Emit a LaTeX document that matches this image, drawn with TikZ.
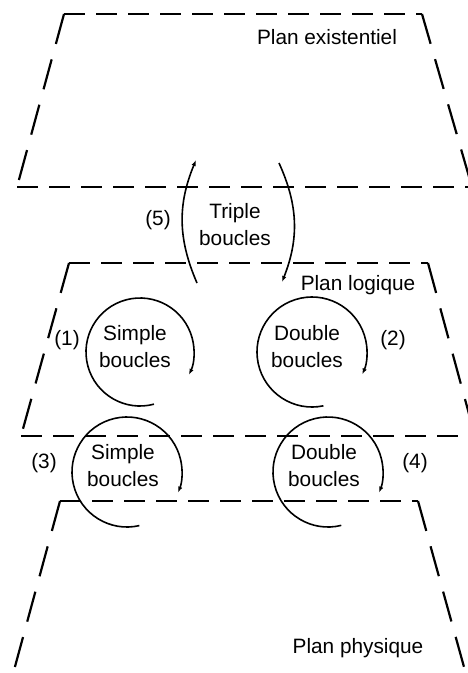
\documentclass[tikz,border=0pt]{standalone}
\usepackage{fontspec}
\setmainfont{Liberation Sans}
\usetikzlibrary{arrows.meta}
\tikzset{
    rim/.style={line width=2.2pt, dash pattern=on 21pt off 11pt},
    flank/.style={line width=2.2pt, dash pattern=on 31pt off 16pt},
    loop/.style={line width=1.6pt, -{Latex[length=6pt,width=4.5pt]}},
    caption/.style={font={\fontsize{20.8pt}{27pt}\selectfont}, inner sep=0pt, align=center},
}

\begin{document}
\begin{tikzpicture}[x=1pt,y=1pt]
\useasboundingbox (0,0) rectangle (468,-673);

% Existential plane
\coordinate (etl) at (64,-14);
\coordinate (etr) at (422,-14);
\coordinate (ebl) at (17,-187);
\coordinate (ebr) at (472,-187);
\draw[rim] (etl) -- (etr);
\draw[flank] (etl) -- (ebl);
\draw[flank] (etr) -- (ebr);
\draw[rim] (ebl) -- (ebr);
\node[caption] (pe) at (327,-37.5) {Plan existentiel};

% Logical plane
\coordinate (ltl) at (69,-263);
\coordinate (ltr) at (428,-263);
\coordinate (lbl) at (21,-436);
\coordinate (lbr) at (475,-436);
\draw[rim] (ltl) -- (ltr);
\draw[flank] (ltl) -- (lbl);
\draw[flank] (ltr) -- (lbr);
\draw[rim] (lbl) -- (lbr);
\node[caption] (pl) at (358,-285) {Plan logique};

% Physical plane
\coordinate (ptl) at (60,-501);
\coordinate (ptr) at (418,-501);
\coordinate (pbl) at (10,-685);
\coordinate (pbr) at (469,-685);
\draw[rim] (ptl) -- (ptr);
\draw[flank] (ptl) -- (pbl);
\draw[flank] (ptr) -- (pbr);
\node[caption] (pp) at (358,-648) {Plan physique};

% Triple loop
\coordinate (t1) at (197,-283);
\coordinate (t2) at (196,-160);
\coordinate (t3) at (279,-163);
\coordinate (t4) at (282,-282);
\draw[loop] (t1) to[bend left=23] (t2);
\draw[loop] (t3) to[bend left=23] (t4);
\node[caption] (tb) at (235,-225) {Triple\\boucles};
\node[caption] (n5) at (158,-220) {(5)};

% Single and double loops
\coordinate (c1) at (140,-352);
\coordinate (c2) at (312,-352);
\coordinate (c3) at (127,-472);
\coordinate (c4) at (328,-472);
\draw[loop] ([shift={(-75:54)}]c1) arc[start angle=-75, end angle=-385, radius=54];
\draw[loop] ([shift={(-78:55)}]c2) arc[start angle=-78, end angle=-384, radius=55];
\draw[loop] ([shift={(-77:55)}]c3) arc[start angle=-77, end angle=-382, radius=55];
\draw[loop] ([shift={(-76:55)}]c4) arc[start angle=-76, end angle=-382, radius=55];
\node[caption] (sb1) at (135,-347) {Simple\\boucles};
\node[caption] (db1) at (307,-347) {Double\\boucles};
\node[caption] (sb2) at (123,-466) {Simple\\boucles};
\node[caption] (db2) at (324,-466) {Double\\boucles};
\node[caption] (n1) at (67,-340) {(1)};
\node[caption] (n2) at (393,-340) {(2)};
\node[caption] (n3) at (44,-463) {(3)};
\node[caption] (n4) at (415,-463) {(4)};
\end{tikzpicture}
\end{document}
